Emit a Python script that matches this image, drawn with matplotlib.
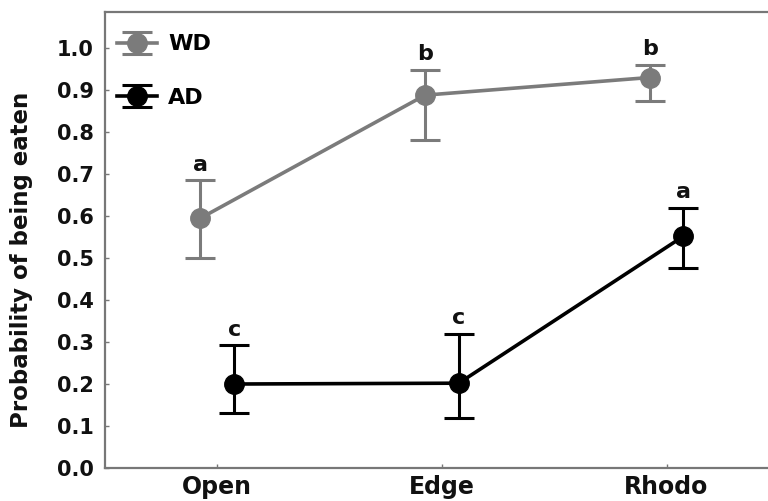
import numpy as np
import matplotlib.pyplot as plt
import matplotlib as mpl

mpl.rc('font', family='DejaVu Sans', weight='bold')

habitats = ["Open", "Edge", "Rhodo"]

wd_mean = [0.595, 0.888, 0.930]
wd_low = [0.500, 0.780, 0.875]
wd_high = [0.685, 0.948, 0.960]
wd_letters = ["a", "b", "b"]

ad_mean = [0.200, 0.202, 0.552]
ad_low = [0.130, 0.118, 0.476]
ad_high = [0.292, 0.320, 0.620]
ad_letters = ["c", "c", "a"]

gray = "#7b7b7b"
spine_gray = "#777777"


def plot_series(ax, xs, mean, low, high, letters, color, label):
    mean = np.array(mean)
    yerr = np.vstack([mean - np.array(low), np.array(high) - mean])
    ax.errorbar(xs, mean, yerr=yerr, color=color, lw=2.6, marker='o', ms=14,
                mfc=color, mec=color, ecolor=color, elinewidth=2.2,
                capsize=11, capthick=2.2, label=label)
    for x, h, t in zip(xs, high, letters):
        ax.annotate(t, (x, h), xytext=(0, 4), textcoords='offset points',
                    ha='center', va='bottom', fontsize=16, fontweight='bold',
                    color='#111111')


def main():
    fig = plt.figure(figsize=(7.68, 5.01), dpi=100)
    ax = fig.add_axes([105 / 768, 1 - 468 / 501, 1.02 - 105 / 768, (468 - 12) / 501])

    x = np.arange(len(habitats))
    off = 0.075
    plot_series(ax, x - off, wd_mean, wd_low, wd_high, wd_letters, gray, "WD")
    plot_series(ax, x + off, ad_mean, ad_low, ad_high, ad_letters, "black", "AD")

    ax.set_xlim(-0.50, 2.52)
    ax.set_ylim(0, 1.086)
    ax.set_xticks(x)
    ax.set_xticklabels(habitats, fontsize=17)
    ax.set_yticks(np.arange(0, 1.01, 0.1))
    ax.set_yticklabels(["%.1f" % v for v in np.arange(0, 1.01, 0.1)])
    ax.tick_params(direction='in', length=3, width=1, colors=spine_gray,
                   labelcolor='#111111', labelsize=15)
    ax.tick_params(axis='x', pad=5, labelsize=17)
    ax.tick_params(axis='y', pad=8)
    ax.spines['right'].set_visible(False)
    for s in ['left', 'bottom', 'top']:
        ax.spines[s].set_color(spine_gray)
        ax.spines[s].set_linewidth(1.6)

    fig.text(22 / 768, 1 - 260 / 501, "Probability of being eaten", rotation=90,
             ha='center', va='center', fontsize=16.5, fontweight='bold', color='#111111')

    ax.legend(loc='upper left', frameon=False, fontsize=16, labelspacing=1.5,
              handlelength=1.8, handletextpad=0.5, borderaxespad=0.3,
              bbox_to_anchor=(-0.005, 0.985))

    plt.savefig("out.png", dpi=100)


if __name__ == "__main__":
    main()
